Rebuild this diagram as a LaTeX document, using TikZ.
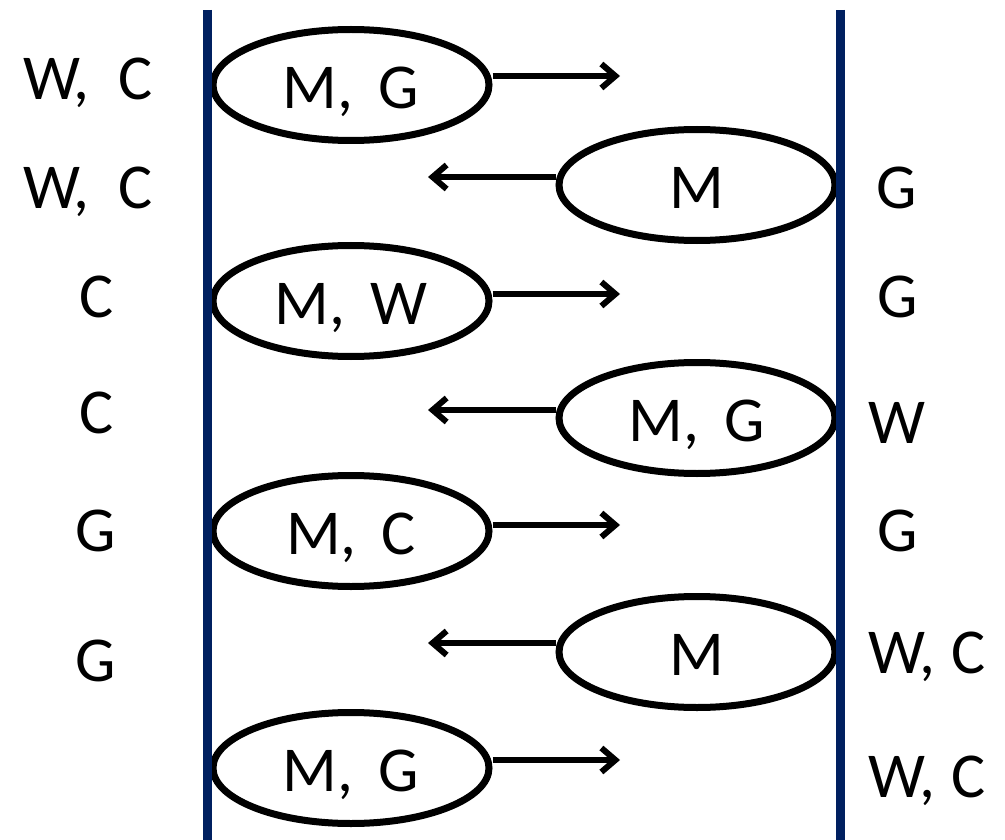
\documentclass[tikz,border=0pt]{standalone}
\usepackage{fontspec}
\setmainfont{Carlito}
\usetikzlibrary{shapes.geometric,arrows.meta}
\definecolor{navy}{RGB}{0,32,96}
\begin{document}
\begin{tikzpicture}[x=1pt,y=-1pt,
  boat/.style={ellipse,draw=black,line width=7pt,minimum width=276pt,minimum height=111pt,inner sep=0pt,
    font=\fontsize{64}{70}\selectfont,text height=47pt,text depth=0pt},
  bank/.style={anchor=base,font=\fontsize{64}{70}\selectfont,inner sep=0pt},
  move/.style={line width=6pt,-{Straight Barb[length=14pt,width=24pt,line width=6pt]}},
  shore/.style={draw=navy,line width=9pt}]
\useasboundingbox (0,0) rectangle (1005,840);
% boats
\node[boat] (e1) at (351,85) {M,\, G};
\node[boat] (e2) at (697,185) {M};
\node[boat] (e3) at (351,301) {M,\, W};
\node[boat] (e4) at (697,418) {M,\, G};
\node[boat] (e5) at (351,531) {M,\, C};
\node[boat] (e6) at (697,652) {M};
\node[boat] (e7) at (351,768) {M,\, G};
% arrow ends
\coordinate (a1) at (620,76);
\coordinate (a2) at (428,177);
\coordinate (a3) at (620,294);
\coordinate (a4) at (428,410);
\coordinate (a5) at (620,525);
\coordinate (a6) at (428,643);
\coordinate (a7) at (620,760);
\draw[move] (e1.east |- a1) -- (a1);
\draw[move] (e2.west |- a2) -- (a2);
\draw[move] (e3.east |- a3) -- (a3);
\draw[move] (e4.west |- a4) -- (a4);
\draw[move] (e5.east |- a5) -- (a5);
\draw[move] (e6.west |- a6) -- (a6);
\draw[move] (e7.east |- a7) -- (a7);
% shores
\coordinate (lt) at (207,10);
\coordinate (lb) at (207,840);
\coordinate (rt) at (840,10);
\coordinate (rb) at (840,840);
\draw[shore] (lt) -- (lb);
\draw[shore] (rt) -- (rb);
% left bank labels
\node[bank] (l1) at (88,100) {W,\hspace{0.45em}C};
\node[bank] (l2) at (88,208) {W,\hspace{0.45em}C};
\node[bank] (l3) at (97,317) {C};
\node[bank] (l4) at (97,433) {C};
\node[bank] (l5) at (96,551) {G};
\node[bank] (l6) at (96,681) {G};
% right bank labels
\node[bank] (r2) at (897,209) {G};
\node[bank] (r3) at (898,317) {G};
\node[bank] (r4) at (897,443) {W};
\node[bank] (r5) at (898,551) {G};
\node[bank] (r6) at (927,673) {W,\hspace{0.25em}C};
\node[bank] (r7) at (927,797) {W,\hspace{0.25em}C};
\end{tikzpicture}
\end{document}
